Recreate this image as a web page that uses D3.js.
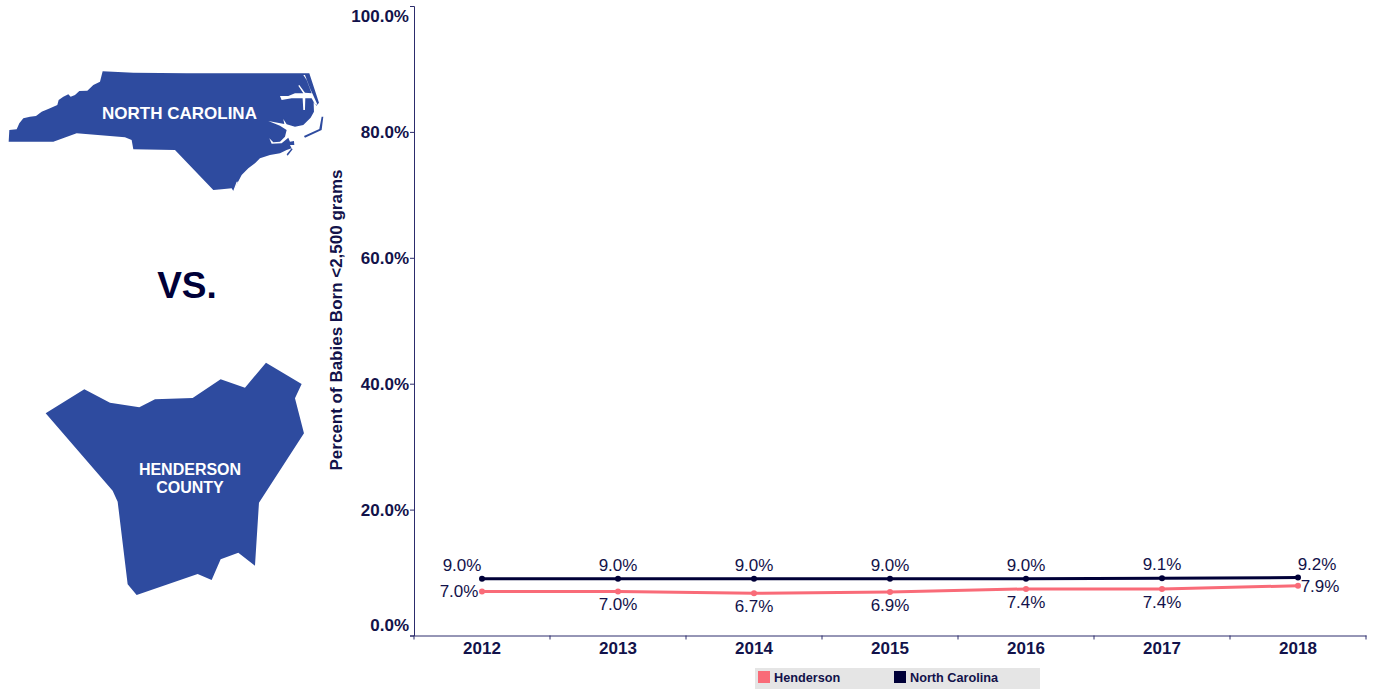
<!DOCTYPE html>
<html>
<head>
<meta charset="utf-8">
<script src="https://cdn.jsdelivr.net/npm/d3@7"></script>
<style>
    html, body { margin: 0; padding: 0; background: #fff; overflow: hidden; }
    svg { display: block; font-family: "Liberation Sans", Arial, sans-serif; }
</style>
</head>
<body>
<svg width="1373" height="689"></svg>
<script>
const years = ["2012", "2013", "2014", "2015", "2016", "2017", "2018"];
const henderson = [7.0, 7.0, 6.7, 6.9, 7.4, 7.4, 7.9];
const northCarolina = [9.0, 9.0, 9.0, 9.0, 9.0, 9.1, 9.2];
const yTicks = [0, 20, 40, 60, 80, 100];
const legendNames = ["Henderson", "North Carolina"];

const navy = "#000038", pink = "#f96b78", textColor = "#12124a", axisColor = "#2c2c6c", mapBlue = "#2e4b9f";

// Map outlines
const ncOutline = [[26,245],[28,210],[50,208],[58,190],[70,175],[90,170],[108,168],[125,155],[150,145],[172,135],[176,120],[190,110],[205,103],[212,110],[225,105],[238,93],[262,92],[280,75],[300,65],[308,34],[400,38],[560,40],[928,40],[957,128],[950,137],[941,127],[942,155],[932,173],[910,195],[885,200],[860,193],[850,177],[853,192],[805,183],[840,197],[860,210],[855,230],[840,245],[820,247],[808,235],[815,251],[845,250],[865,233],[870,245],[882,243],[883,255],[870,255],[875,265],[860,270],[840,280],[810,285],[780,295],[765,310],[745,325],[725,345],[712,370],[700,393],[695,385],[665,388],[640,390],[525,270],[400,268],[395,240],[375,232],[230,220],[160,245]];
const ncSound = [[840,108],[865,108],[885,100],[910,100],[895,77],[898,75],[915,98],[935,100],[920,60],[910,45],[915,45],[930,85],[953,135],[945,133],[935,115],[916,115],[915,150],[910,150],[908,115],[875,115],[845,120]];
const ncBanks = [
    [[965,170],[970,170],[965,210],[915,233],[912,228],[958,207]],
    [[875,265],[878,268],[863,287],[860,283]]
];
const ncCape = [[710,365],[714,365],[704,392],[700,392]];
const hendersonOutline = [[47,190],[163,118],[240,158],[328,172],[375,148],[488,144],[572,88],[645,113],[708,38],[815,102],[795,145],[822,250],[687,458],[675,647],[625,608],[572,628],[545,690],[503,672],[320,735],[293,703],[263,455],[248,422]];

const svg = d3.select("svg"),
    margin = { top: 6, right: 7, bottom: 53.5, left: 414 },
    width = +svg.attr("width") - margin.left - margin.right,
    height = +svg.attr("height") - margin.top - margin.bottom;

const x = d3.scaleBand().domain(years).range([0, width]),
    y = d3.scaleLinear().domain([0, 100]).range([height, 0]),
    g = svg.append("g").attr("transform", `translate(${margin.left},${margin.top})`);

const outline = d3.line().curve(d3.curveLinearClosed);

// North Carolina map
const ncMap = svg.append("g").attr("transform", "translate(0,60) scale(0.3333)");
ncMap.append("path").attr("d", outline(ncOutline)).attr("fill", mapBlue);
ncMap.append("path").attr("d", outline(ncSound)).attr("fill", "#fff");
ncMap.append("path").attr("d", outline(ncCape)).attr("fill", "#fff");
ncBanks.forEach(d => ncMap.append("path").attr("d", outline(d)).attr("fill", mapBlue));

// Henderson county map
svg.append("g").attr("transform", "translate(30,350) scale(0.3333)")
    .append("path").attr("d", outline(hendersonOutline)).attr("fill", mapBlue);

const mapLabel = (text, px, py, size) => svg.append("text")
    .attr("x", px).attr("y", py).attr("dy", ".35em")
    .attr("text-anchor", "middle")
    .attr("font-size", size).attr("font-weight", "bold")
    .attr("fill", "#fff").text(text);
mapLabel("NORTH CAROLINA", 179.5, 113, "17px");
mapLabel("HENDERSON", 190, 469, "16px");
mapLabel("COUNTY", 190, 487, "16px");

svg.append("text").attr("x", 187).attr("y", 285).attr("dy", ".35em")
    .attr("text-anchor", "middle")
    .attr("font-size", "37px").attr("font-weight", "bold")
    .attr("fill", navy).text("VS.");

// Axes
const yAxis = g.append("g")
    .call(d3.axisLeft(y).tickValues(yTicks).tickFormat(d => d.toFixed(1) + "%").tickSize(4).tickPadding(1));
yAxis.selectAll("text")
    .attr("font-size", "17px").attr("font-weight", "bold")
    .attr("font-family", "inherit").attr("fill", textColor)
    .attr("dy", d => d === 100 ? "0.9em" : d === 0 ? "-0.3em" : "0.32em");

const xAxis = g.append("g")
    .attr("transform", `translate(0,${height})`)
    .call(d3.axisBottom(x).tickSize(0).tickPadding(6));
xAxis.selectAll("text")
    .attr("font-size", "17px").attr("font-weight", "bold")
    .attr("font-family", "inherit").attr("fill", textColor);

// Ticks on the x axis sit on the band edges
xAxis.selectAll(".edge")
    .data(years.concat("end"))
    .join("line")
    .attr("class", "edge")
    .attr("x1", d => d === "end" ? width : x(d))
    .attr("x2", d => d === "end" ? width : x(d))
    .attr("y1", 0).attr("y2", 4)
    .attr("stroke", axisColor);

svg.selectAll(".domain").attr("stroke", axisColor);
svg.selectAll(".tick line").attr("stroke", axisColor);

svg.append("text")
    .attr("transform", `translate(336,320) rotate(-90)`)
    .attr("dy", ".35em")
    .attr("text-anchor", "middle")
    .attr("font-size", "17px").attr("font-weight", "bold")
    .attr("fill", textColor)
    .text("Percent of Babies Born <2,500 grams");

// Lines, dots and value labels
const cx = d => x(d) + x.bandwidth() / 2;
const valueLine = d3.line().x((d, i) => cx(years[i])).y(d => y(d));

const drawSeries = (values, color, below) => {
    g.append("path")
        .attr("d", valueLine(values))
        .attr("fill", "none")
        .attr("stroke", color)
        .attr("stroke-width", 3);

    g.selectAll(null).data(values).join("circle")
        .attr("cx", (d, i) => cx(years[i]))
        .attr("cy", d => y(d))
        .attr("r", 3)
        .attr("fill", color);

    g.selectAll(null).data(values).join("text")
        .attr("x", (d, i) => {
            const px = cx(years[i]);
            if (i === 0) return px - (below ? 23 : 20);
            if (i === values.length - 1) return px + (below ? 22 : 19);
            return px;
        })
        .attr("y", (d, i) => {
            const side = below && (i === 0 || i === values.length - 1);
            if (side) return y(d);
            return below ? y(d) + 13 : y(d) - 14;
        })
        .attr("dy", ".35em")
        .attr("text-anchor", "middle")
        .attr("font-size", "17px")
        .attr("fill", textColor)
        .text(d => d.toFixed(1) + "%");
};

drawSeries(henderson, pink, true);
drawSeries(northCarolina, navy, false);

// Legend
const legend = svg.append("g").attr("transform", "translate(755,668)");
legend.append("rect").attr("width", 285).attr("height", 21).attr("fill", "#e5e5e5");
const legendItems = legend.selectAll(null)
    .data(legendNames)
    .join("g")
    .attr("transform", (d, i) => `translate(${3 + i * 136},3)`);
legendItems.append("rect")
    .attr("width", 12).attr("height", 12)
    .attr("fill", (d, i) => i === 0 ? pink : navy);
legendItems.append("text")
    .attr("x", 16).attr("y", 6.5).attr("dy", ".35em")
    .attr("font-size", "12.7px").attr("font-weight", "bold")
    .attr("fill", textColor)
    .text(d => d);
</script>
</body>
</html>
